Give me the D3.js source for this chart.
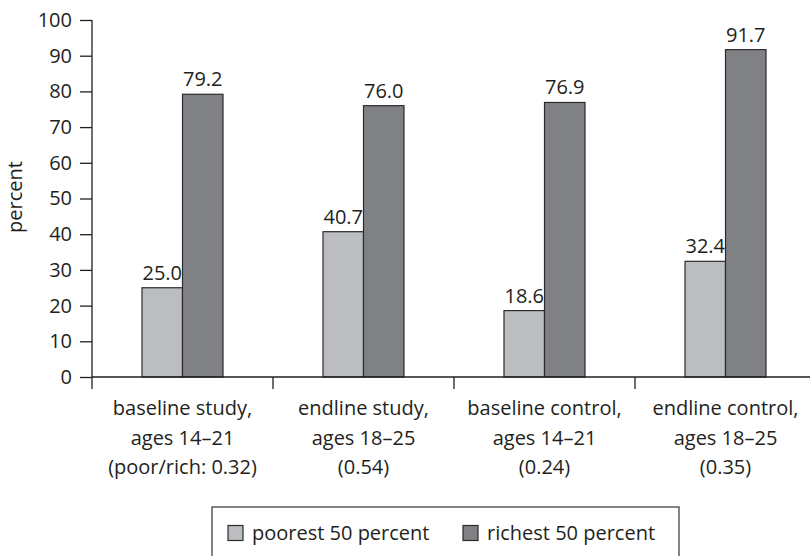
<!DOCTYPE html>
<html><head><meta charset="utf-8">
<script src="https://cdn.jsdelivr.net/npm/d3@7/dist/d3.min.js"></script>
<style>body{margin:0;background:#fff}svg{display:block}text{font-family:"Open Sans",sans-serif;fill:#231f20}</style>
</head><body><svg id="c" width="810" height="556"></svg>
<script>
const categories = [
  ["baseline study,", "ages 14\u201321", "(poor/rich: 0.32)"],
  ["endline study,", "ages 18\u201325", "(0.54)"],
  ["baseline control,", "ages 14\u201321", "(0.24)"],
  ["endline control,", "ages 18\u201325", "(0.35)"]
];
const seriesNames = ["poorest 50 percent", "richest 50 percent"];
const poorest = [25.0, 40.7, 18.6, 32.4];
const richest = [79.2, 76.0, 76.9, 91.7];
const yTicks = [0,10,20,30,40,50,60,70,80,90,100];
const colors = ["#bcbdc0", "#808184"];

const svg = d3.select("#c");
const x0 = d3.scaleBand().domain(d3.range(categories.length)).range([92, 816]).padding(0);
const barW = 40.5;
const x1 = d3.scaleBand().domain([0,1]).range([-barW, barW]).padding(0);
const y = d3.scaleLinear().domain([0,100]).range([377, 20]);

// bars
const g = svg.append("g");
const series = [poorest, richest];
series.forEach((vals, si) => {
  g.selectAll(".b"+si).data(vals).enter().append("rect")
    .attr("x", (d,i) => x0(i) + x0.bandwidth()/2 + x1(si))
    .attr("y", d => y(d))
    .attr("width", x1.bandwidth())
    .attr("height", d => y(0) - y(d))
    .attr("fill", colors[si]).attr("stroke", "#2b2b2b").attr("stroke-width", 1.2);
  g.selectAll(".l"+si).data(vals).enter().append("text")
    .attr("x", (d,i) => x0(i) + x0.bandwidth()/2 + x1(si) + x1.bandwidth()/2)
    .attr("y", d => y(d) - 8)
    .attr("text-anchor", "middle").attr("font-size", 20)
    .text(d => d.toFixed(1));
});

// y axis
const yAxis = svg.append("g").attr("transform", "translate(92,0)")
  .call(d3.axisLeft(y).tickValues(yTicks).tickSize(12).tickPadding(8).tickFormat(d3.format("d")));
yAxis.select(".domain").remove();
yAxis.append("line").attr("x1",0).attr("x2",0).attr("y1", y(100)).attr("y2", y(0)+12).attr("stroke","#231f20").attr("stroke-width",1.3);
yAxis.selectAll(".tick line").attr("stroke","#231f20").attr("stroke-width",1.3);
yAxis.selectAll(".tick text").attr("font-size", 20).attr("font-family","Open Sans").attr("fill","#231f20");

// x axis
const xg = svg.append("g");
xg.append("line").attr("x1", 92).attr("x2", 810).attr("y1", y(0)).attr("y2", y(0)).attr("stroke","#231f20").attr("stroke-width",1.3);
xg.selectAll(".xt").data(d3.range(1, categories.length)).enter().append("line")
  .attr("x1", d => x0(d)).attr("x2", d => x0(d)).attr("y1", y(0)).attr("y2", y(0)+12)
  .attr("stroke","#231f20").attr("stroke-width",1.3);
categories.forEach((lines, i) => {
  const t = xg.append("text").attr("text-anchor","middle").attr("font-size",20);
  lines.forEach((ln, k) => {
    t.append("tspan").attr("x", x0(i) + x0.bandwidth()/2).attr("y", 415 + k*29.5).text(ln);
  });
});

// y title
svg.append("text").attr("transform", "translate(22,197) rotate(-90)")
  .attr("text-anchor","middle").attr("font-size",20).text("percent");

// legend
const lg = svg.append("g");
lg.append("rect").attr("x",212).attr("y",507).attr("width",467).attr("height",70)
  .attr("fill","none").attr("stroke","#444").attr("stroke-width",1.3);
const legX = [228, 463];
seriesNames.forEach((n, i) => {
  lg.append("rect").attr("x", legX[i]).attr("y", 525.5).attr("width",15).attr("height",15)
    .attr("fill", colors[i]).attr("stroke","#2b2b2b").attr("stroke-width",1.2);
  lg.append("text").attr("x", legX[i] + 24).attr("y", 540).attr("font-size",20).text(n);
});
</script></body></html>
